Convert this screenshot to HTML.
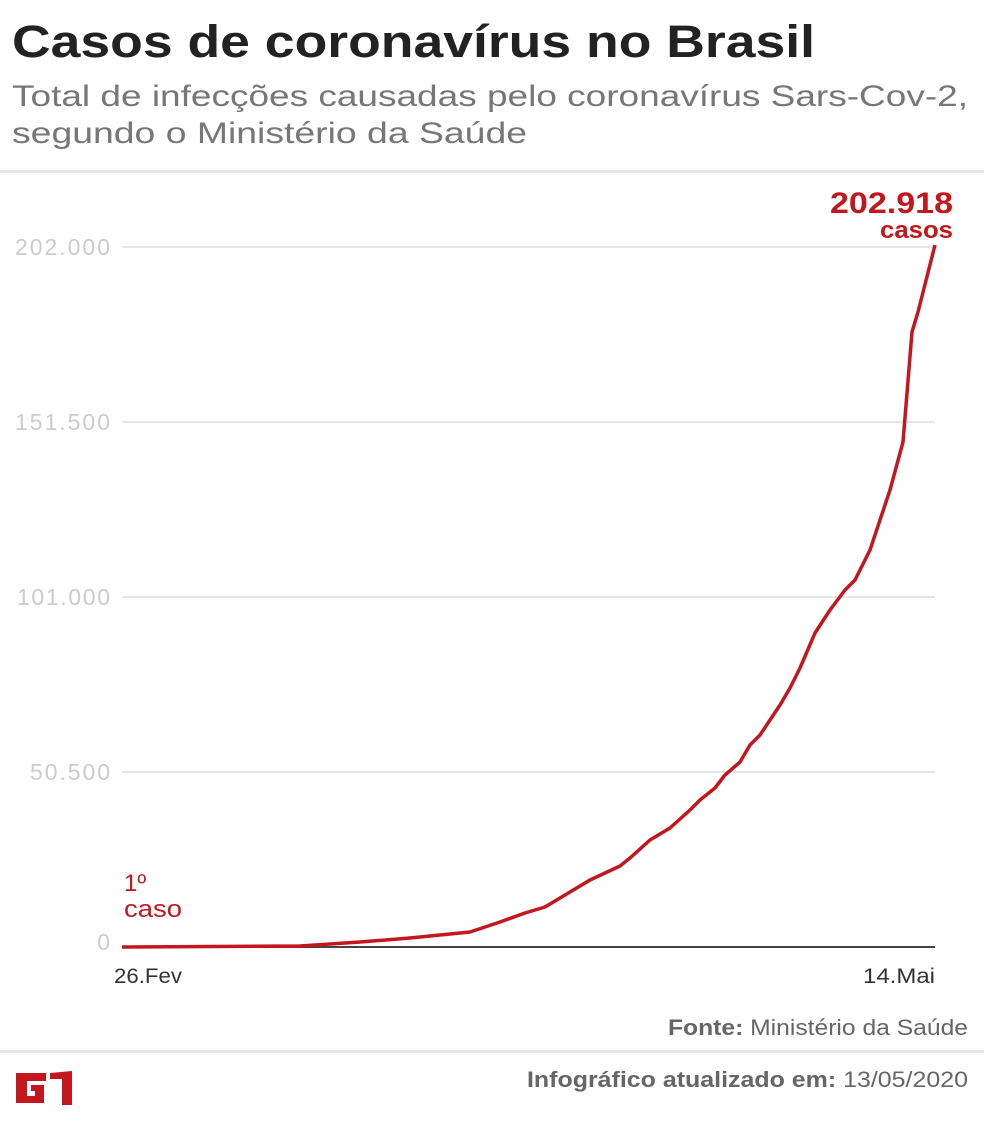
<!DOCTYPE html>
<html><head><meta charset="utf-8"><style>
body{margin:0;width:984px;height:1126px;background:#fff;font-family:"Liberation Sans",sans-serif;overflow:hidden;position:relative}
.hr{position:absolute;left:0;width:984px;height:3px;background:#e6e6e6}
</style></head><body>
<div class="hr" style="top:170px"></div>
<div class="hr" style="top:1050px"></div>
<svg width="984" height="1126" style="position:absolute;left:0;top:0" font-family="Liberation Sans, sans-serif">
<text x="12" y="57" font-size="45" font-weight="bold" fill="#222" textLength="803" lengthAdjust="spacingAndGlyphs">Casos de coronavírus no Brasil</text>
<text x="12" y="106" font-size="30" fill="#777" textLength="956" lengthAdjust="spacingAndGlyphs">Total de infecções causadas pelo coronavírus Sars-Cov-2,</text>
<text x="12" y="143" font-size="30" fill="#777" textLength="515" lengthAdjust="spacingAndGlyphs">segundo o Ministério da Saúde</text>
<g stroke="#ddd" stroke-width="1.5">
<line x1="122" y1="247" x2="935" y2="247"/><line x1="122" y1="422" x2="935" y2="422"/>
<line x1="122" y1="597" x2="935" y2="597"/><line x1="122" y1="772" x2="935" y2="772"/>
</g>
<line x1="122" y1="947" x2="935" y2="947" stroke="#444" stroke-width="2"/>
<g fill="#ccc" font-size="23" text-anchor="end" lengthAdjust="spacingAndGlyphs">
<text x="110" y="255" textLength="95">202.000</text><text x="110" y="430" textLength="95">151.500</text>
<text x="110" y="605" textLength="93">101.000</text><text x="110" y="780" textLength="80">50.500</text><text x="110" y="950">0</text>
</g>
<polyline fill="none" stroke="#c4161c" stroke-width="3.5" stroke-linejoin="round" points="122,947 300,946 330,944 360,942 410,938 440,935 470,932 500,922 525,913 545,907 565,895 590,880 620,866 630,858 650,840 670,828 690,810 700,800 715,788 725,775 740,762 750,745 760,735 770,720 780,705 790,688 800,668 815,633 830,610 845,590 855,580 870,550 880,520 890,490 903,442 912,332 918,312 935,245"/>
<g fill="#c4161c" font-size="24"><text x="124" y="891">1º</text><text x="124" y="917" textLength="58" lengthAdjust="spacingAndGlyphs">caso</text></g>
<g fill="#c4161c" font-weight="bold" text-anchor="end"><text x="953" y="213" font-size="30" textLength="123" lengthAdjust="spacingAndGlyphs">202.918</text><text x="953" y="238" font-size="24" textLength="73" lengthAdjust="spacingAndGlyphs">casos</text></g>
<g fill="#333" font-size="21"><text x="114" y="983" textLength="68" lengthAdjust="spacingAndGlyphs">26.Fev</text><text x="935" y="983" text-anchor="end" textLength="72" lengthAdjust="spacingAndGlyphs">14.Mai</text></g>
<text x="968" y="1035" text-anchor="end" font-size="22" fill="#666" textLength="300" lengthAdjust="spacingAndGlyphs"><tspan font-weight="bold">Fonte:</tspan> Ministério da Saúde</text>
<text x="968" y="1087" text-anchor="end" font-size="22" fill="#666" textLength="441" lengthAdjust="spacingAndGlyphs"><tspan font-weight="bold">Infográfico atualizado em:</tspan> 13/05/2020</text>
<g fill="#c4161c">
<path d="M16,1073 h30 v8 h-19 v15 h8 v-5 h-4 v-6 h13 v18 h-28 z"/>
<path d="M50,1073 l22,-2 v34 h-10 v-26 h-12 z"/>
</g>
</svg>
</body></html>
